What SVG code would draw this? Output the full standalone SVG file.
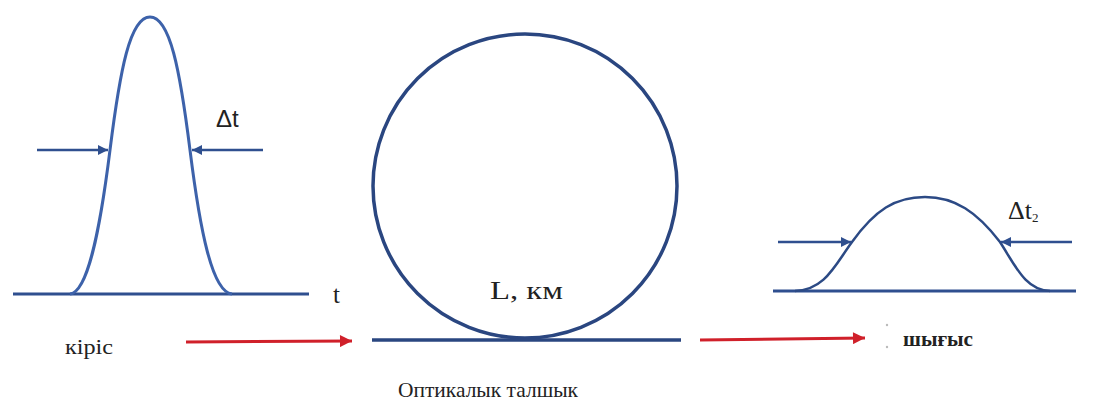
<svg xmlns="http://www.w3.org/2000/svg" width="1101" height="403" viewBox="0 0 1101 403">
<style>
.ax{stroke:#2f4f8f;stroke-width:3;fill:none}
.pulse{stroke:#3d62aa;stroke-width:3;fill:none}
.pulse2{stroke:#2c4a85;stroke-width:2.5;fill:none}
.fib{stroke:#2a4680;stroke-width:3.5;fill:none}
.barr{stroke:#2f4f8f;stroke-width:2.5;fill:none;marker-end:url(#bh)}
.rarr{stroke:#d0202a;stroke-width:3;fill:none;marker-end:url(#rh)}
.lbl{font-family:"Liberation Serif",serif;fill:#222}
</style>
<defs>
<marker id="bh" viewBox="0 0 10 10" refX="10" refY="5" markerWidth="4" markerHeight="4" orient="auto" markerUnits="strokeWidth"><path d="M0,0 L10,5 L0,10 z" fill="#2f4f8f"/></marker>
<marker id="rh" viewBox="0 0 10 10" refX="10" refY="5" markerWidth="4.5" markerHeight="4" orient="auto" markerUnits="strokeWidth"><path d="M0,0 L10,5 L0,10 z" fill="#d0202a"/></marker>
</defs>
<rect width="1101" height="403" fill="#fff"/>
<g id="input-pulse">
<line class="ax" x1="13" y1="294" x2="309" y2="294"/>
<path class="pulse" d="M70,294 C88,292 100,230 110,150 C120,70 130,17 150,17 C170,17 180,70 190,150 C200,230 212,292 232,294"/>
<text class="lbl" x="333" y="303" font-size="25">t</text>
<text x="216" y="127" font-family="Liberation Sans,sans-serif" font-size="24" fill="#222">Δt</text>
</g>
<g id="fiber">
<circle class="fib" cx="525" cy="186" r="152"/>
<line class="fib" x1="372" y1="340" x2="681" y2="340"/>
<text class="lbl" x="490" y="299" font-size="26" textLength="73" lengthAdjust="spacingAndGlyphs">L, км</text>
<text class="lbl" x="398" y="397" font-size="21" textLength="180" lengthAdjust="spacingAndGlyphs">Оптикалык талшык</text>
</g>
<g id="output-pulse">
<line class="ax" x1="773" y1="291" x2="1076" y2="291"/>
<path class="pulse2" d="M795,291 C825,290 835,265 852,242 C875,210 895,197 925,197 C955,197 977,212 1000,242 C1015,265 1025,290 1050,291"/>
<text class="lbl" x="1008" y="219" font-size="26">Δt<tspan font-size="13" dy="3">2</tspan></text>
</g>
<g id="labels">
<text class="lbl" x="65" y="354" font-size="20" textLength="48" lengthAdjust="spacingAndGlyphs">кіріс</text>
<circle cx="887" cy="325" r="1.2" fill="#bbb"/>
<circle cx="887" cy="347" r="1.2" fill="#bbb"/>
<text class="lbl" x="903" y="346" font-size="20" font-weight="bold" textLength="70" lengthAdjust="spacingAndGlyphs">шығыс</text>
</g>
<g id="connectors">
<line class="barr" x1="37" y1="150" x2="108" y2="150"/>
<line class="barr" x1="263" y1="150" x2="192" y2="150"/>
<line class="barr" x1="778" y1="242" x2="851" y2="242"/>
<line class="barr" x1="1072" y1="242" x2="1001" y2="242"/>
<line class="rarr" x1="186" y1="342" x2="352" y2="341"/>
<line class="rarr" x1="700" y1="340" x2="865" y2="338"/>
</g>
</svg>
